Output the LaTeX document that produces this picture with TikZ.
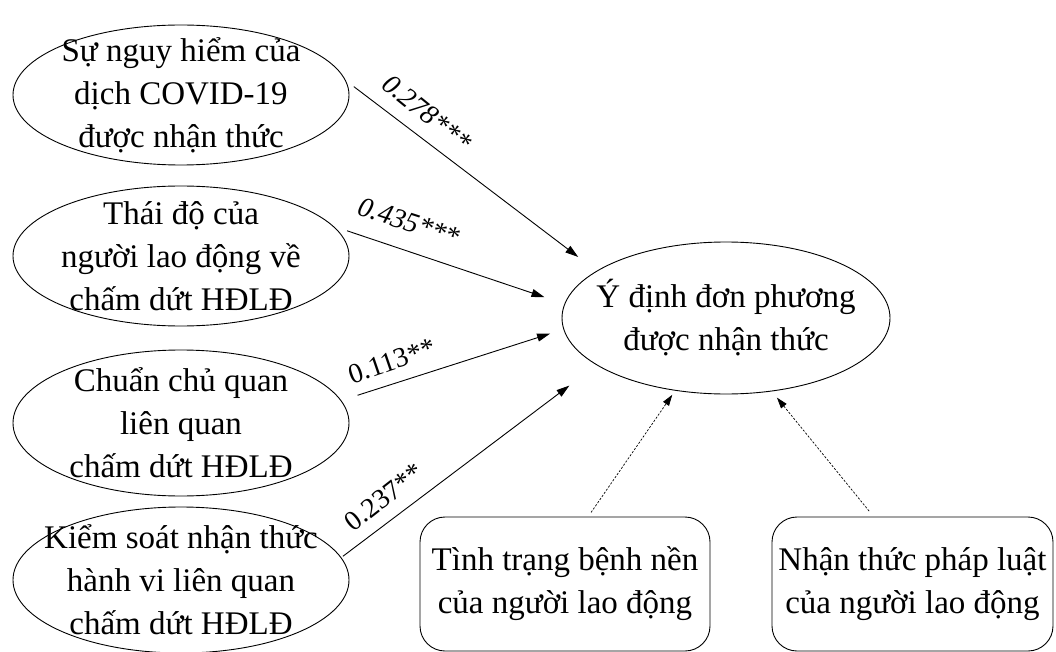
\documentclass[tikz,border=0pt]{standalone}
\usepackage{fontspec}
\setmainfont{Liberation Serif}
\usetikzlibrary{arrows.meta,shapes.geometric}
\begin{document}
\begin{tikzpicture}[x=1pt,y=-1pt,
  ell/.style={draw, ellipse, line width=0.9pt, minimum width=336pt, inner sep=0pt},
  txt/.style={align=center, font=\fontsize{33}{43}\selectfont, inner sep=0pt},
  boxn/.style={draw, rounded corners=25pt, line width=0.9pt, inner sep=0pt, minimum height=134pt, align=center, font=\fontsize{33}{43}\selectfont},
  arr/.style={line width=0.9pt, -{Triangle[length=13pt,width=8pt]}},
  darr/.style={line width=0.7pt, dash pattern=on 2.2pt off 1.6pt, -{Triangle[length=11pt,width=7pt]}},
  lab/.style={font=\fontsize{28}{30}\selectfont, inner sep=0pt}]
\useasboundingbox (0,0) rectangle (1056,652);

\node[ell, minimum height=140pt] (e1) at (181,95) {};
\node[txt] (t1) at (e1.center) {Sự nguy hiểm của\\dịch COVID-19\\được nhận thức};
\node[ell, minimum height=140pt] (e2) at (181,256) {};
\node[txt] (t2) at (e2.center) {Thái độ của\\người lao động về\\chấm dứt HĐLĐ};
\node[ell, minimum height=146pt] (e3) at (181,423) {};
\node[txt] (t3) at (e3.center) {Chuẩn chủ quan\\liên quan\\chấm dứt HĐLĐ};
\node[ell, minimum height=146pt] (e4) at (181,580) {};
\node[txt] (t4) at (e4.center) {Kiểm soát nhận thức\\hành vi liên quan\\chấm dứt HĐLĐ};

\node[ell, minimum width=328pt, minimum height=152pt] (c) at (726,318) {};
\node[txt] (tc) at (c.center) {Ý định đơn phương\\được nhận thức};

\node[boxn, minimum width=290pt] (b1) at (565,584) {Tình trạng bệnh nền\\của người lao động};
\node[boxn, minimum width=281pt] (b2) at (912.5,584) {Nhận thức pháp luật\\của người lao động};

\draw[arr, shorten <=10pt, shorten >=23pt] (e1.5) -- (c.160);
\draw[arr, shorten <=14pt, shorten >=21pt] (e2.11) -- (c.175);
\draw[arr, shorten <=17pt, shorten >=14pt] (e3.8) -- (c.184);
\draw[arr, shorten <=2pt, shorten >=34pt] (e4.8) -- (c.200);
\draw[darr, shorten <=5pt, shorten >=5pt] (b1.71) -- (c.235);
\draw[darr, shorten <=7pt, shorten >=8pt] (b2.120) -- (c.302);

\node[lab, rotate=-39] (l1) at (427,113) {\itshape 0.278***};
\node[lab, rotate=-18] (l2) at (409,222) {\itshape 0.435***};
\node[lab, rotate=19] (l3) at (392,361) {0.113**};
\node[lab, rotate=38] (l4) at (384,497) {0.237**};
\end{tikzpicture}
\end{document}
